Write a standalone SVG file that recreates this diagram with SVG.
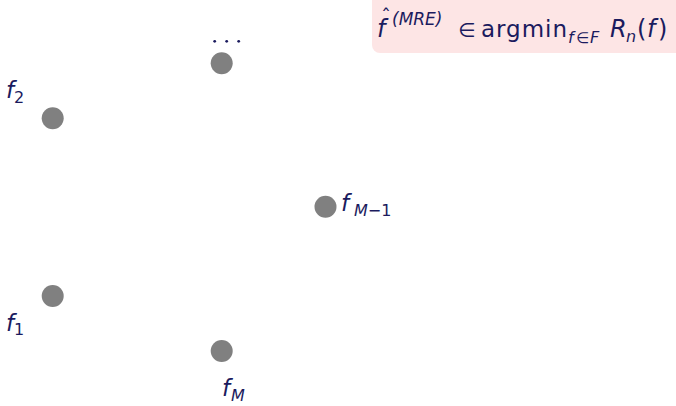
<svg xmlns="http://www.w3.org/2000/svg" width="676" height="406" viewBox="0 0 676 406">
  <style>
    .t { font-family: "DejaVu Sans", "Liberation Sans", sans-serif; fill: #1b1b5e; }
    .it { font-style: italic; }
    .lab { font-size: 23px; }
    .sub { font-size: 16px; }
    .dot { fill: #808080; }
  </style>
  <rect width="676" height="406" fill="#ffffff"/>
  <g id="formula">
    <rect x="372" y="-10" width="320" height="63" rx="8" ry="8" fill="#fde5e5"/>
    <text class="t it" x="377" y="37" font-size="24">f</text>
    <text class="t" x="381" y="23" font-size="20">ˆ</text>
    <text class="t it" x="392" y="25" font-size="17">(MRE)</text>
    <text class="t" x="458" y="37" font-size="20">∈</text>
    <text class="t" x="481" y="37" font-size="23" textLength="86" lengthAdjust="spacing">argmin</text>
    <text class="t it" x="568" y="43" font-size="16">f</text>
    <text class="t" x="576" y="43" font-size="15">∈</text>
    <text class="t it" x="590" y="43" font-size="16">F</text>
    <text class="t it" x="610" y="37" font-size="24">R</text>
    <text class="t it" x="626" y="42" font-size="16">n</text>
    <text class="t" x="637" y="37" font-size="24">(</text>
    <text class="t it" x="647" y="37" font-size="24">f</text>
    <text class="t" x="658" y="37" font-size="24">)</text>
  </g>
  <g id="node-dots">
    <circle cx="214.7" cy="41.3" r="1.4" fill="#1b1b5e"/>
    <circle cx="226.7" cy="41.3" r="1.4" fill="#1b1b5e"/>
    <circle cx="238.7" cy="41.3" r="1.4" fill="#1b1b5e"/>
    <circle class="dot" cx="221.7" cy="63.3" r="11"/>
  </g>
  <g id="node-f2">
    <circle class="dot" cx="52.7" cy="118.3" r="11"/>
    <text class="t it lab" x="6" y="98">f</text>
    <text class="t sub" x="14" y="103">2</text>
  </g>
  <g id="node-fM1">
    <circle class="dot" cx="325.5" cy="206.7" r="11"/>
    <text class="t it lab" x="341" y="211">f</text>
    <text class="t sub" x="354" y="216"><tspan font-style="italic">M</tspan>−1</text>
  </g>
  <g id="node-f1">
    <circle class="dot" cx="52.7" cy="296" r="11"/>
    <text class="t it lab" x="6" y="331">f</text>
    <text class="t sub" x="14" y="335">1</text>
  </g>
  <g id="node-fM">
    <circle class="dot" cx="221.7" cy="351" r="11"/>
    <text class="t it lab" x="222" y="396">f</text>
    <text class="t it sub" x="231" y="401">M</text>
  </g>
  <g id="connectors"></g>
</svg>
